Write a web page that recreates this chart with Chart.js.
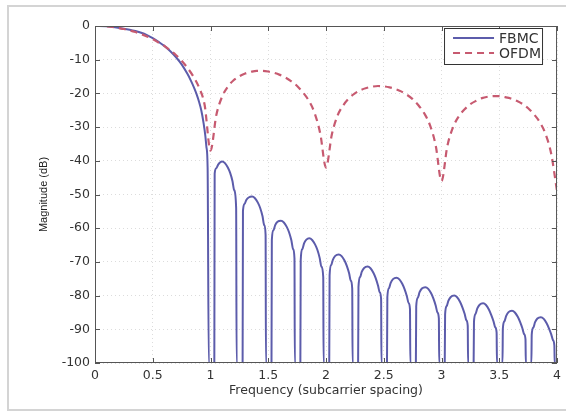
<!DOCTYPE html>
<html>
<head>
<meta charset="utf-8">
<script src="https://cdn.jsdelivr.net/npm/chart.js@4.4.1/dist/chart.umd.min.js"></script>
<style>
  html, body { margin: 0; padding: 0; background: #fff; }
  #wrap { position: relative; width: 566px; height: 412px; overflow: hidden; }
  #frame { position: absolute; left: 7px; top: 5px; width: 620px; height: 406px;
           border: 2px solid #d4d4d4; box-sizing: border-box; }
  canvas { position: absolute; left: 0; top: 0; }
</style>
</head>
<body>
<div id="wrap">
  <div id="frame"></div>
  <canvas id="myChart" width="566" height="412"></canvas>
</div>
<script>
// series names
var seriesNames = ['FBMC', 'OFDM'];

// FBMC: main lobe + 12 side lobes (frequency, dB)
var fbmcX = [0, 0.1, 0.2, 0.3, 0.35, 0.4, 0.45, 0.5, 0.55, 0.6, 0.65, 0.7, 0.75, 0.8, 0.83, 0.86, 0.88, 0.9, 0.92, 0.94, 0.955, 0.965, 0.975, 0.985,
  1.033, 1.036, 1.05, 1.065, 1.082, 1.10, 1.125, 1.15, 1.17, 1.19, 1.205, 1.222, 1.226,
  1.278, 1.281, 1.295, 1.31, 1.33, 1.36, 1.385, 1.41, 1.43, 1.45, 1.465, 1.477, 1.48,
  1.528, 1.531, 1.545, 1.56, 1.58, 1.61, 1.635, 1.66, 1.68, 1.70, 1.715, 1.727, 1.73,
  1.778, 1.781, 1.795, 1.81, 1.83, 1.855, 1.88, 1.905, 1.925, 1.945, 1.96, 1.976, 1.979,
  2.028, 2.031, 2.045, 2.06, 2.08, 2.11, 2.135, 2.16, 2.18, 2.20, 2.215, 2.227, 2.23,
  2.278, 2.281, 2.295, 2.31, 2.33, 2.36, 2.385, 2.41, 2.43, 2.45, 2.465, 2.477, 2.48,
  2.528, 2.531, 2.545, 2.56, 2.58, 2.61, 2.635, 2.66, 2.68, 2.70, 2.715, 2.727, 2.73,
  2.778, 2.781, 2.795, 2.81, 2.83, 2.86, 2.885, 2.91, 2.93, 2.95, 2.965, 2.977, 2.98,
  3.028, 3.031, 3.045, 3.06, 3.08, 3.11, 3.135, 3.16, 3.18, 3.20, 3.215, 3.227, 3.23,
  3.278, 3.281, 3.295, 3.31, 3.33, 3.36, 3.385, 3.41, 3.43, 3.45, 3.465, 3.477, 3.48,
  3.528, 3.531, 3.545, 3.56, 3.58, 3.61, 3.635, 3.66, 3.68, 3.70, 3.715, 3.727, 3.73,
  3.778, 3.781, 3.795, 3.81, 3.83, 3.86, 3.885, 3.91, 3.93, 3.95, 3.965, 3.977, 3.98, 4.0];
var fbmcY = [0, -0.1, -0.5, -1.1, -1.5, -2.0, -2.7, -3.6, -4.7, -5.9, -7.4, -9.2, -11.4, -14.2, -16.2, -18.5, -20.3, -22.4, -25.0, -28.8, -32.5, -36, -42, -100,
  -100, -43.8, -42.2, -41.2, -40.5, -40.2, -40.7, -42.0, -43.6, -46.0, -48.7, -54, -100,
  -100, -54.8, -52.8, -51.6, -50.9, -50.6, -51.1, -52.4, -54.0, -56.4, -59.1, -62, -100,
  -100, -63.5, -60.6, -59.1, -58.1, -57.8, -58.3, -59.6, -61.2, -63.6, -66.2, -69, -100,
  -100, -69.5, -66.2, -64.5, -63.4, -63, -63.5, -64.8, -66.4, -68.8, -71.4, -74.5, -100,
  -100, -74, -70.9, -69.3, -68.2, -67.8, -68.3, -69.6, -71.2, -73.4, -75.6, -78, -100,
  -100, -77.5, -74.5, -72.9, -71.8, -71.4, -71.9, -73.2, -74.8, -77.0, -79.0, -81, -100,
  -100, -80.5, -77.8, -76.2, -75.1, -74.7, -75.2, -76.5, -78.1, -80.2, -82.2, -84, -100,
  -100, -83.2, -80.6, -79.0, -77.9, -77.5, -78.0, -79.3, -80.9, -83.0, -85.0, -86.8, -100,
  -100, -85.6, -83.1, -81.5, -80.4, -80, -80.5, -81.8, -83.4, -85.4, -87.3, -89, -100,
  -100, -87.8, -85.4, -83.8, -82.7, -82.3, -82.8, -84.1, -85.7, -87.6, -89.4, -91, -100,
  -100, -89.8, -87.6, -86.0, -84.9, -84.5, -85.0, -86.3, -87.8, -89.7, -91.4, -93, -100,
  -100, -91.6, -89.5, -87.9, -86.8, -86.4, -86.9, -88.2, -89.7, -91.5, -93.2, -94.8, -100, -100];

// OFDM
var ofdmX = [0, 0.05, 0.1, 0.15, 0.2, 0.25, 0.3, 0.35, 0.4, 0.45, 0.5, 0.55, 0.6, 0.65, 0.7, 0.75, 0.8, 0.85, 0.9, 0.95,
  1.0, 1.05, 1.1, 1.15, 1.2, 1.25, 1.3, 1.35, 1.4, 1.45, 1.5, 1.55, 1.6, 1.65, 1.7, 1.75, 1.8, 1.85, 1.9, 1.95,
  2.0, 2.05, 2.1, 2.15, 2.2, 2.25, 2.3, 2.35, 2.4, 2.45, 2.5, 2.55, 2.6, 2.65, 2.7, 2.75, 2.8, 2.85, 2.9, 2.95,
  3.0, 3.05, 3.1, 3.15, 3.2, 3.25, 3.3, 3.35, 3.4, 3.45, 3.5, 3.55, 3.6, 3.65, 3.7, 3.75, 3.8, 3.85, 3.9, 3.95, 4.0];
var ofdmY = [0, 0, -0.1, -0.3, -0.6, -0.9, -1.3, -1.8, -2.4, -3.1, -3.9, -4.9, -5.9, -7.2, -8.6, -10.3, -12.4, -14.9, -18.2, -23.6,
  -37, -26.5, -21, -18, -16.1, -14.9, -14.1, -13.6, -13.3, -13.3, -13.5, -13.9, -14.5, -15.3, -16.4, -17.8, -19.7, -22.1, -25.7, -31.9,
  -42, -32.3, -26.6, -23.5, -21.4, -20, -19, -18.4, -18, -17.8, -17.9, -18.2, -18.7, -19.4, -20.4, -21.7, -23.5, -25.9, -29.4, -35.5,
  -46, -35.7, -30, -26.8, -24.7, -23.2, -22.2, -21.4, -21, -20.8, -20.8, -21.1, -21.5, -22.2, -23.1, -24.4, -26.2, -28.5, -32, -38, -49];

// tick labels
var xTickVals = [0, 0.5, 1, 1.5, 2, 2.5, 3, 3.5, 4];
var xTickLabels = ['0', '0.5', '1', '1.5', '2', '2.5', '3', '3.5', '4'];
var yTickVals = [0, -10, -20, -30, -40, -50, -60, -70, -80, -90, -100];
var yTickLabels = ['0', '-10', '-20', '-30', '-40', '-50', '-60', '-70', '-80', '-90', '-100'];

var fbmcColor = '#5c5cab';
var ofdmColor = '#c75a70';

function toPoints(xs, ys) {
  return xs.map(function (x, i) { return { x: x, y: ys[i] }; });
}

// box, inward ticks (matlab style) and legend
var matlabAxes = {
  id: 'matlabAxes',
  afterDatasetsDraw: function (chart) {
    var c = chart.ctx, a = chart.chartArea;
    var xs = chart.scales.x, ys = chart.scales.y;
    c.save();
    c.strokeStyle = '#555';
    c.lineWidth = 1;
    c.strokeRect(a.left + 0.5, a.top + 0.5, a.right - a.left - 1, a.bottom - a.top - 1);
    c.beginPath();
    xTickVals.forEach(function (v) {
      var p = Math.round(xs.getPixelForValue(v)) + 0.5;
      c.moveTo(p, a.bottom); c.lineTo(p, a.bottom - 5);
      c.moveTo(p, a.top); c.lineTo(p, a.top + 5);
    });
    yTickVals.forEach(function (v) {
      var p = Math.round(ys.getPixelForValue(v)) + 0.5;
      c.moveTo(a.left, p); c.lineTo(a.left + 5, p);
      c.moveTo(a.right, p); c.lineTo(a.right - 5, p);
    });
    c.stroke();

    // legend box
    var bx = a.right - 113, by = a.top + 2, bw = 99, bh = 37;
    c.fillStyle = '#fff';
    c.fillRect(bx, by, bw, bh);
    c.strokeStyle = '#333';
    c.strokeRect(bx + 0.5, by + 0.5, bw - 1, bh - 1);
    c.font = '14px "DejaVu Sans"';
    c.textBaseline = 'middle';
    c.fillStyle = '#333';
    var ds = chart.data.datasets;
    [0, 1].forEach(function (k, i) {
      var d = ds.filter(function (s) { return s.label === seriesNames[k]; })[0];
      var yy = by + 10 + i * 15;
      c.beginPath();
      c.strokeStyle = d.borderColor;
      c.lineWidth = d.borderWidth;
      c.setLineDash(d.borderDash || []);
      c.moveTo(bx + 9, yy); c.lineTo(bx + 50, yy);
      c.stroke();
      c.setLineDash([]);
      c.fillText(d.label, bx + 55, yy + 1);
    });
    c.restore();
  }
};

var ctx = document.getElementById('myChart').getContext('2d');

var myChart = new Chart(ctx, {
  type: 'line',
  data: {
    datasets: [{
      label: seriesNames[1],
      data: toPoints(ofdmX, ofdmY),
      borderColor: ofdmColor,
      borderWidth: 2.2,
      borderDash: [7, 5],
      pointRadius: 0,
      cubicInterpolationMode: 'monotone',
      fill: false
    }, {
      label: seriesNames[0],
      data: toPoints(fbmcX, fbmcY),
      borderColor: fbmcColor,
      borderWidth: 2,
      pointRadius: 0,
      cubicInterpolationMode: 'monotone',
      fill: false
    }]
  },
  options: {
    responsive: false,
    animation: false,
    layout: { padding: { top: 26, right: 5, left: 0, bottom: 0 } },
    plugins: { legend: { display: false }, tooltip: { enabled: false } },
    scales: {
      x: {
        type: 'linear',
        min: 0, max: 4,
        afterBuildTicks: function (s) { s.ticks = xTickVals.map(function (v) { return { value: v }; }); },
        afterFit: function (s) { s.height = 49; },
        ticks: {
          padding: 5,
          color: '#333',
          font: { family: 'DejaVu Sans', size: 12.5 },
          maxRotation: 0,
          autoSkip: false,
          callback: function (v, i) { return xTickLabels[i]; }
        },
        grid: { color: '#dcdcdc', drawTicks: false },
        border: { display: false, dash: [1, 3] },
        title: {
          display: true,
          text: 'Frequency (subcarrier spacing)',
          color: '#333',
          font: { family: 'DejaVu Sans', size: 12.5 },
          padding: { top: 0, bottom: 14 }
        }
      },
      y: {
        type: 'linear',
        min: -100, max: 0,
        afterBuildTicks: function (s) { s.ticks = yTickVals.map(function (v) { return { value: v }; }); },
        afterFit: function (s) { s.width = 95; },
        ticks: {
          padding: 5,
          color: '#333',
          font: { family: 'DejaVu Sans', size: 12.5 },
          autoSkip: false,
          callback: function (v, i) { return yTickLabels[i]; }
        },
        grid: { color: '#dcdcdc', drawTicks: false },
        border: { display: false, dash: [1, 3] },
        title: {
          display: true,
          text: 'Magnitude (dB)',
          color: '#222',
          font: { family: 'Liberation Sans', size: 11 },
          padding: { top: 37, bottom: 0 }
        }
      }
    }
  },
  plugins: [matlabAxes]
});
</script>
</body>
</html>
